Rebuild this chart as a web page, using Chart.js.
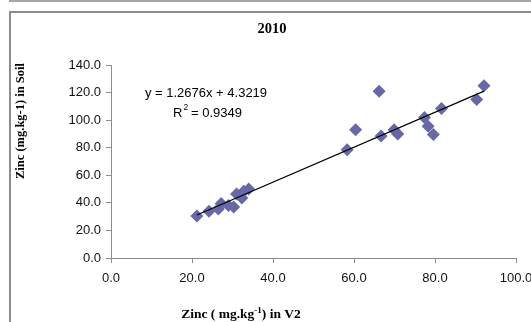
<!DOCTYPE html>
<html>
<head>
<meta charset="utf-8">
<script src="https://cdn.jsdelivr.net/npm/chart.js@4.4.0/dist/chart.umd.min.js"></script>
<style>
  html, body { margin: 0; padding: 0; background: #fff; }
  #wrap { width: 531px; height: 322px; position: relative; }
</style>
</head>
<body>
<div id="wrap"><canvas id="chart" width="531" height="322"></canvas></div>
<script>
// values
const zincV2 = [21.2, 24.2, 26.5, 27.2, 29.0, 30.3, 31.0, 32.3, 32.8, 34.0,
                58.3, 60.4, 66.2, 66.7, 69.9, 70.8, 77.4, 78.3, 79.6, 81.6, 90.3, 92.1]
const zincSoil = [30.5, 34.0, 35.5, 39.5, 38.0, 37.0, 46.5, 43.5, 48.5, 50.0,
                  78.5, 93.0, 121.0, 88.5, 93.0, 90.0, 102.0, 95.5, 89.5, 108.5, 115.0, 125.0]
const slope = 1.2676
const intercept = 4.3219
const r2 = "0.9349"
const xTicks = [0, 20, 40, 60, 80, 100]
const yTicks = [0, 20, 40, 60, 80, 100, 120, 140]

const points = zincV2.map((x, i) => ({x: x, y: zincSoil[i]}))
const xMin = Math.min(...zincV2)
const xMax = Math.max(...zincV2)
const trend = [xMin, xMax].map(x => ({x: x, y: slope * x + intercept}))

const serif = "'Liberation Serif', 'Times New Roman', serif"
const sans = "'Liberation Sans', Arial, sans-serif"

const decorations = {
    id: 'decorations',
    beforeDraw(chart) {
        const c = chart.ctx
        c.save()
        c.fillStyle = '#fff'
        c.fillRect(0, 0, chart.width, chart.height)
        c.strokeStyle = '#a6a6a6'
        c.lineWidth = 2
        c.beginPath()
        c.moveTo(9, 1); c.lineTo(chart.width, 1)
        c.stroke()
        c.strokeStyle = '#8c8c8c'
        c.beginPath()
        c.moveTo(10, chart.height); c.lineTo(10, 12); c.lineTo(chart.width, 12)
        c.stroke()
        c.restore()
    },
    afterDraw(chart) {
        const c = chart.ctx
        c.save()
        c.fillStyle = '#000'
        // title
        c.font = "bold 14.5px " + serif
        c.textAlign = 'center'
        c.textBaseline = 'middle'
        c.fillText('2010', 272, 29)
        // y axis title
        c.save()
        c.translate(21, 121)
        c.rotate(-Math.PI / 2)
        c.font = "bold 12.5px " + serif
        c.fillText('Zinc (mg.kg-1) in Soil', 0, 0)
        c.restore()
        // x axis title with superscript
        c.textAlign = 'left'
        c.textBaseline = 'alphabetic'
        const parts = [['Zinc ( mg.kg', 0, 13.5], ['-1', -5, 9], [') in V2', 0, 13.5]]
        let total = 0
        parts.forEach(p => { c.font = "bold " + p[2] + "px " + serif; total += c.measureText(p[0]).width })
        let x = 241 - total / 2
        parts.forEach(p => {
            c.font = "bold " + p[2] + "px " + serif
            c.fillText(p[0], x, 318 + p[1])
            x += c.measureText(p[0]).width
        })
        // equation
        c.font = "13px " + sans
        c.textAlign = 'center'
        c.textBaseline = 'middle'
        c.fillText('y = ' + slope + 'x + ' + intercept, 206, 93)
        c.textAlign = 'left'
        const rx = 173
        c.fillText('R', rx, 113)
        const rw = c.measureText('R').width
        c.font = "8.5px " + sans
        c.fillText('2', rx + rw + 1, 108)
        c.font = "13px " + sans
        c.fillText(' = ' + r2, rx + rw + 5, 113)
        c.restore()
    }
}

new Chart(document.getElementById('chart').getContext('2d'), {
    type: 'scatter',
    data: {
        datasets: [{
            label: 'Zinc',
            data: points,
            pointStyle: 'rectRot',
            pointRadius: 6.5,
            pointHoverRadius: 6.5,
            backgroundColor: '#6868a6',
            borderColor: '#6868a6',
            borderWidth: 0,
            order: 2
        }, {
            type: 'line',
            label: 'Trend',
            data: trend,
            borderColor: '#000',
            borderWidth: 1.2,
            pointRadius: 0,
            fill: false,
            order: 1
        }]
    },
    options: {
        responsive: false,
        animation: false,
        layout: { padding: { left: 0, right: 15, top: 65, bottom: 0 } },
        plugins: {
            legend: { display: false },
            tooltip: { enabled: false }
        },
        scales: {
            x: {
                type: 'linear',
                min: 0,
                max: 100,
                afterBuildTicks(scale) { scale.ticks = xTicks.map(v => ({value: v})) },
                afterFit(scale) {
                    scale.height = 64
                    scale.paddingLeft = 0
                    scale.paddingRight = 0
                },
                border: { display: true, color: '#8c8c8c', width: 1 },
                grid: { display: true, drawOnChartArea: false, drawTicks: true, tickLength: 5, color: '#8c8c8c' },
                ticks: {
                    padding: 8,
                    color: '#111',
                    font: { family: sans, size: 13 },
                    maxRotation: 0,
                    callback: v => v.toFixed(1)
                }
            },
            y: {
                type: 'linear',
                min: 0,
                max: 140,
                afterBuildTicks(scale) { scale.ticks = yTicks.map(v => ({value: v})) },
                afterFit(scale) {
                    scale.width = 111
                    scale.paddingTop = 0
                    scale.paddingBottom = 0
                },
                border: { display: true, color: '#8c8c8c', width: 1 },
                grid: { display: true, drawOnChartArea: false, drawTicks: true, tickLength: 5, color: '#8c8c8c' },
                ticks: {
                    padding: 5,
                    color: '#111',
                    font: { family: sans, size: 13 },
                    callback: v => v.toFixed(1)
                }
            }
        }
    },
    plugins: [decorations]
})
</script>
</body>
</html>
